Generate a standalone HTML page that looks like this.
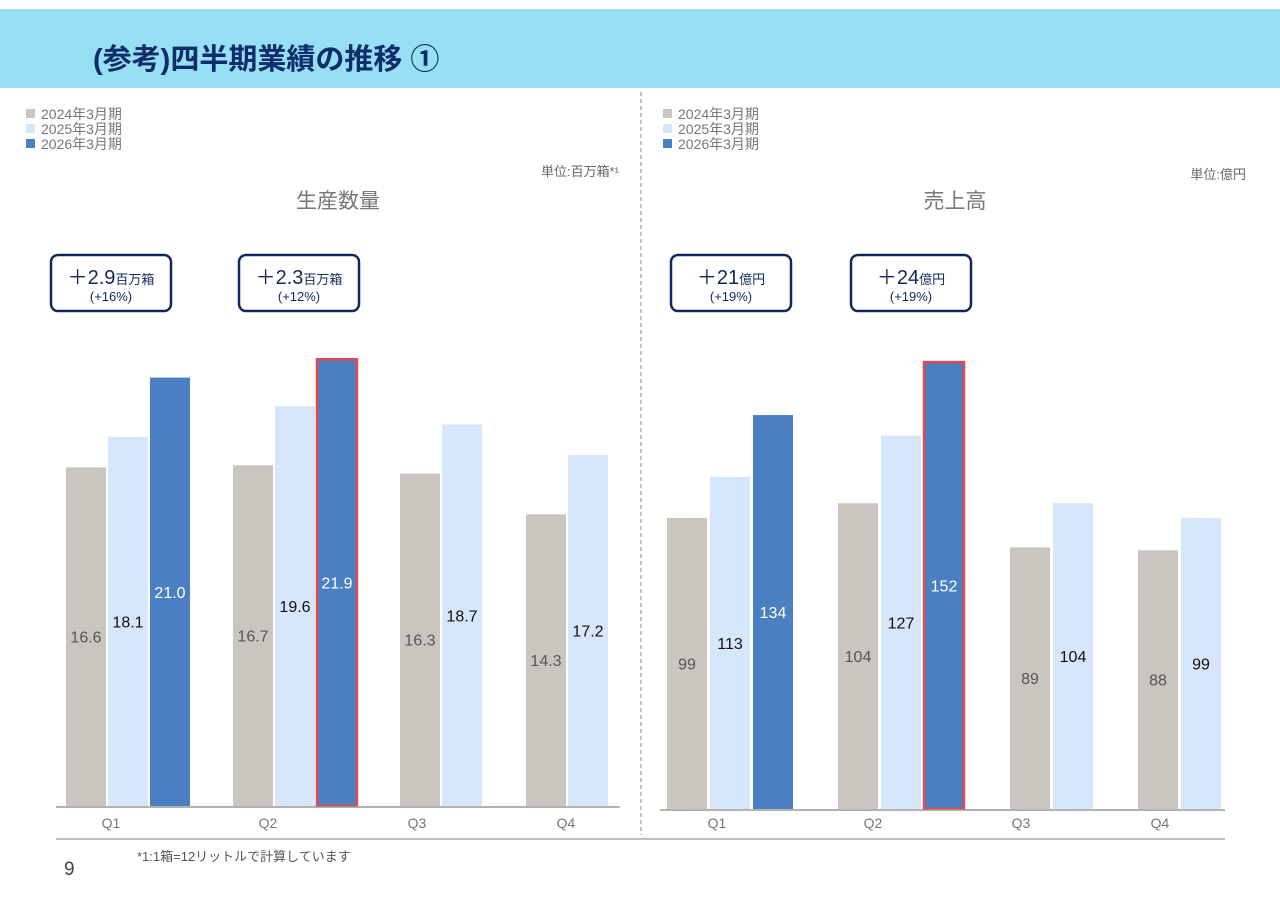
<!DOCTYPE html>
<html><head><meta charset="utf-8">
<style>
body{margin:0;width:1280px;height:904px;background:#fff;font-family:"Liberation Sans","Noto Sans CJK JP",sans-serif;overflow:hidden}
svg{position:absolute;left:0;top:0}
</style></head>
<body>
<svg id="s" width="1280" height="904" xmlns="http://www.w3.org/2000/svg">
<rect x="0" y="9" width="1280" height="79" fill="#97DFF3"/>
<text x="93" y="69" font-size="29" font-weight="bold" fill="#0F2D6B" font-family="Liberation Sans, Noto Sans CJK JP, sans-serif">(参考)四半期業績の推移 ①</text>
<line x1="641" y1="92" x2="641" y2="835" stroke="#888" stroke-dasharray="4,3"/>
<line x1="56" y1="839" x2="1225" y2="839" stroke="#aaa" stroke-width="1.5"/>
<text x="64" y="875" font-size="19" fill="#444">9</text>
<text x="137" y="861" font-size="13" fill="#555">*1:1箱=12リットルで計算しています</text>
<g id="g"></g>
</svg>
<script>
const categories=["Q1","Q2","Q3","Q4"];
const seriesNames=["2024年3月期","2025年3月期","2026年3月期"];
const prodFY24=[16.6,16.7,16.3,14.3];
const prodFY25=[18.1,19.6,18.7,17.2];
const prodFY26=[21.0,21.9,null,null];
const salesFY24=[99,104,89,88];
const salesFY25=[113,127,104,99];
const salesFY26=[134,152,null,null];
const prodCallouts=[["＋2.9","百万箱","(+16%)"],["＋2.3","百万箱","(+12%)"]];
const salesCallouts=[["＋21","億円","(+19%)"],["＋24","億円","(+19%)"]];

const NS="http://www.w3.org/2000/svg";
const G=document.getElementById('g');
function el(t,a,txt){const e=document.createElementNS(NS,t);for(const k in a)e.setAttribute(k,a[k]);if(txt!==undefined)e.textContent=txt;G.appendChild(e);return e;}
const colors=["#C9C6BF","#D6E6FB","#4A7FC1"];
const labelColors=["#555","#111","#fff"];

function chart(cfg){
  const y=v=>cfg.base-v*cfg.k;
  seriesNames.forEach((n,i)=>{
    const r=el('rect',{x:cfg.lx,y:109+i*15,width:9,height:9,fill:colors[i]});
    
    
    const t=el('text',{x:cfg.lx+15,y:119+i*15,'font-size':14,fill:'#777'},n);
    
    
  });
  const u=el('text',{x:cfg.ux,y:cfg.uy,'font-size':13,fill:'#666','text-anchor':'end'},cfg.unit);
  
  
  const tt=el('text',{x:cfg.tx,y:208,'font-size':21,fill:'#777','text-anchor':'middle'},cfg.title);
  
  
  const series=[cfg.s24,cfg.s25,cfg.s26];
  categories.forEach((c,ci)=>{
    series.forEach((s,si)=>{
      const v=s[ci]; if(v==null) return;
      const x=cfg.gx[ci]+si*cfg.step;
      const top=y(v);
      const r=el('rect',{x:x,y:top,width:40,height:cfg.base-top,fill:colors[si]});
      
      
      if(si===2&&ci===1){r.setAttribute('stroke','#E5484D');r.setAttribute('stroke-width','2.5');}
      const t=el('text',{x:x+20,y:(top+cfg.base)/2+6,'font-size':16,fill:labelColors[si],'text-anchor':'middle'},cfg.fmt(v));
      
      
    });
    const q=el('text',{x:cfg.qx[ci],y:828,'font-size':14,fill:'#777','text-anchor':'middle'},c);
    
    
  });
  const ax=el('line',{x1:cfg.ax1,y1:cfg.base+1,x2:cfg.ax2,y2:cfg.base+1,stroke:'#999','stroke-width':1.5});
  
  
  cfg.callouts.forEach((c,i)=>{
    const cx=cfg.cx[i];
    const b=el('rect',{x:cx-60,y:255,width:120,height:56,rx:7,fill:'#fff',stroke:'#13285A','stroke-width':2.5});
    
    
    const t=el('text',{x:cx,y:284,'font-size':20,fill:'#13285A','text-anchor':'middle'});
    
    
    const a=document.createElementNS(NS,'tspan');a.textContent=c[0];t.appendChild(a);
    const b2=document.createElementNS(NS,'tspan');b2.setAttribute('font-size','13');b2.textContent=c[1];t.appendChild(b2);
    const p=el('text',{x:cx,y:301,'font-size':13,fill:'#13285A','text-anchor':'middle'},c[2]);
    
    
  });
}
chart({base:806,k:20.4,s24:prodFY24,s25:prodFY25,s26:prodFY26,gx:[66,233,400,526],step:42,qx:[111,268,417,566],
  ax1:56,ax2:620,lx:26,ux:619,uy:176,unit:'単位:百万箱*¹',tx:338,title:'生産数量',fmt:v=>v.toFixed(1),callouts:prodCallouts,cx:[111,299]});
chart({base:809,k:2.94,s24:salesFY24,s25:salesFY25,s26:salesFY26,gx:[667,838,1010,1138],step:43,qx:[717,873,1021,1160],
  ax1:660,ax2:1225,lx:663,ux:1246,uy:179,unit:'単位:億円',tx:955,title:'売上高',fmt:v=>String(v),callouts:salesCallouts,cx:[731,911]});
</script>
</body></html>
